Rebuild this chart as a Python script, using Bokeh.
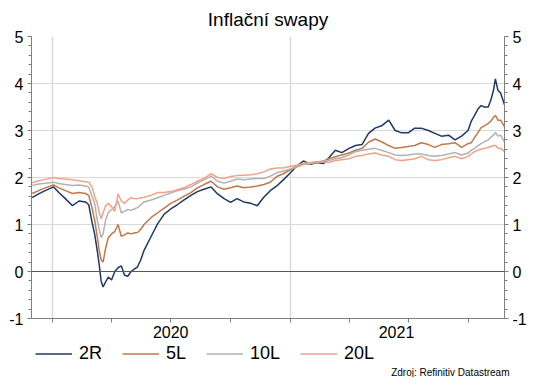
import pandas as pd
from bokeh.plotting import figure
from bokeh.layouts import column
from bokeh.models import (Range1d, FixedTicker, LinearAxis, Span, Legend, LegendItem,
                          Title, DatetimeTickFormatter)
from bokeh.embed import file_html
from bokeh.resources import INLINE

# ---------------- data ----------------
dates = [
    "2019-12-01", "2019-12-11", "2019-12-21", "2020-01-03", "2020-01-11", "2020-01-21",
    "2020-02-01", "2020-02-11", "2020-02-21", "2020-02-26", "2020-03-02", "2020-03-06",
    "2020-03-10", "2020-03-13", "2020-03-16", "2020-03-19", "2020-03-23", "2020-03-27",
    "2020-04-01", "2020-04-06", "2020-04-11", "2020-04-16", "2020-04-21", "2020-04-26",
    "2020-05-01", "2020-05-06", "2020-05-11", "2020-05-16", "2020-05-21", "2020-06-01",
    "2020-06-11", "2020-06-21", "2020-07-01", "2020-07-11", "2020-07-21", "2020-08-01",
    "2020-08-11", "2020-08-21", "2020-09-01", "2020-09-11", "2020-09-21", "2020-10-01",
    "2020-10-11", "2020-10-21", "2020-11-01", "2020-11-11", "2020-11-21", "2020-12-01",
    "2020-12-11", "2020-12-21", "2021-01-01", "2021-01-11", "2021-01-21", "2021-02-01",
    "2021-02-11", "2021-02-21", "2021-03-01", "2021-03-11", "2021-03-21", "2021-04-01",
    "2021-04-11", "2021-04-21", "2021-05-01", "2021-05-11", "2021-05-21", "2021-06-01",
    "2021-06-11", "2021-06-21", "2021-07-01", "2021-07-11", "2021-07-21", "2021-08-01",
    "2021-08-11", "2021-08-21", "2021-09-01", "2021-09-11", "2021-09-21", "2021-10-01",
    "2021-10-06", "2021-10-11", "2021-10-16", "2021-10-21", "2021-10-26", "2021-11-01",
    "2021-11-05", "2021-11-09", "2021-11-12", "2021-11-16", "2021-11-20", "2021-11-26",
]

swap_2r = [
    1.57, 1.65, 1.72, 1.80, 1.68, 1.55, 1.40, 1.50, 1.48, 1.42, 1.05, 0.80,
    0.45, 0.15, -0.20, -0.33, -0.22, -0.12, -0.18, 0.00, 0.08, 0.12, -0.08, -0.10,
    0.00, 0.05, 0.10, 0.25, 0.45, 0.75, 1.02, 1.22, 1.33, 1.42, 1.52, 1.62,
    1.70, 1.75, 1.80, 1.65, 1.55, 1.47, 1.55, 1.48, 1.45, 1.40, 1.58, 1.72,
    1.82, 1.95, 2.10, 2.25, 2.35, 2.28, 2.32, 2.30, 2.42, 2.58, 2.53, 2.62,
    2.68, 2.70, 2.94, 3.05, 3.10, 3.22, 3.00, 2.95, 2.95, 3.05, 3.05, 3.00,
    2.94, 2.88, 2.90, 2.80, 2.88, 3.00, 3.20, 3.32, 3.45, 3.53, 3.50, 3.50,
    3.65, 3.85, 4.10, 3.85, 3.80, 3.55,
]

swap_5l = [
    1.66, 1.72, 1.78, 1.84, 1.78, 1.72, 1.66, 1.68, 1.66, 1.62, 1.35, 1.10,
    0.75, 0.45, 0.25, 0.20, 0.50, 0.72, 0.80, 0.85, 1.00, 0.75, 0.78, 0.82,
    0.80, 0.82, 0.83, 0.90, 1.00, 1.15, 1.25, 1.35, 1.45, 1.52, 1.60, 1.68,
    1.78, 1.85, 1.92, 1.80, 1.75, 1.78, 1.82, 1.78, 1.80, 1.82, 1.85, 1.90,
    2.02, 2.08, 2.17, 2.24, 2.28, 2.30, 2.32, 2.35, 2.40, 2.44, 2.48, 2.52,
    2.58, 2.62, 2.75, 2.82, 2.76, 2.68, 2.62, 2.64, 2.66, 2.68, 2.74, 2.70,
    2.64, 2.70, 2.72, 2.74, 2.64, 2.72, 2.74, 2.85, 2.95, 3.06, 3.10, 3.15,
    3.20, 3.28, 3.32, 3.22, 3.22, 3.08,
]

swap_10l = [
    1.83, 1.86, 1.88, 1.90, 1.87, 1.85, 1.83, 1.84, 1.82, 1.80, 1.60, 1.45,
    1.10, 0.90, 0.72, 0.80, 1.10, 1.25, 1.32, 1.38, 1.50, 1.25, 1.28, 1.32,
    1.30, 1.33, 1.36, 1.42, 1.48, 1.52, 1.57, 1.62, 1.67, 1.72, 1.75, 1.80,
    1.88, 1.95, 2.03, 1.92, 1.88, 1.92, 1.97, 1.95, 1.97, 1.98, 1.98, 2.03,
    2.10, 2.14, 2.18, 2.22, 2.28, 2.30, 2.33, 2.35, 2.36, 2.40, 2.42, 2.48,
    2.55, 2.58, 2.60, 2.62, 2.58, 2.53, 2.48, 2.47, 2.48, 2.50, 2.50, 2.47,
    2.45, 2.47, 2.50, 2.53, 2.48, 2.52, 2.58, 2.62, 2.68, 2.72, 2.76, 2.80,
    2.86, 2.90, 2.96, 2.88, 2.90, 2.75,
]

swap_20l = [
    1.89, 1.93, 1.96, 2.00, 1.98, 1.97, 1.95, 1.93, 1.91, 1.90, 1.80, 1.60,
    1.45, 1.25, 1.12, 1.25, 1.40, 1.45, 1.38, 1.28, 1.65, 1.50, 1.45, 1.52,
    1.57, 1.55, 1.55, 1.57, 1.58, 1.62, 1.68, 1.68, 1.70, 1.74, 1.78, 1.85,
    1.92, 1.98, 2.08, 2.00, 1.98, 2.02, 2.04, 2.05, 2.06, 2.08, 2.12, 2.18,
    2.20, 2.20, 2.24, 2.26, 2.30, 2.32, 2.34, 2.33, 2.32, 2.36, 2.38, 2.40,
    2.45, 2.47, 2.50, 2.52, 2.48, 2.45, 2.38, 2.36, 2.38, 2.40, 2.45, 2.38,
    2.36, 2.38, 2.42, 2.45, 2.40, 2.45, 2.50, 2.55, 2.58, 2.60, 2.62, 2.64,
    2.66, 2.68, 2.68, 2.62, 2.62, 2.55,
]

series_names = ["2R", "5L", "10L", "20L"]
series_colors = ["#1F3864", "#C0784A", "#B2B2B2", "#F4A287"]
series_values = [swap_2r, swap_5l, swap_10l, swap_20l]

x_start, x_end = "2019-11-30", "2021-11-26"
year_label_dates = ["2020-07-01", "2021-06-13"]
quarter_dates = ["2020-01-01", "2020-04-01", "2020-07-01", "2020-10-01",
                 "2021-01-01", "2021-04-01", "2021-07-01", "2021-10-01"]
year_grid_dates = ["2020-01-01", "2021-01-01"]
y_ticks = [-1, 0, 1, 2, 3, 4, 5]
y_minor_ticks = [-1 + 0.2 * i for i in range(31)]
source_text = "Zdroj: Refinitiv Datastream"

FONT = "Liberation Sans"


def ms(d):
    return pd.Timestamp(d).value / 1e6


x_dt = pd.to_datetime(dates)

# ---------------- main chart ----------------
p = figure(width=529, height=344, x_axis_type="datetime", output_backend="svg",
           toolbar_location=None,
           x_range=Range1d(ms(x_start), ms(x_end)), y_range=Range1d(-1, 5),
           min_border_left=31, min_border_right=22, min_border_top=36, min_border_bottom=26,
           title="Inflační swapy")
p.outline_line_color = None
p.background_fill_color = "white"
p.border_fill_color = "white"

p.title.align = "center"
p.title.text_font = FONT
p.title.text_font_size = "19px"
p.title.text_font_style = "normal"
p.title.text_color = "#000000"
p.title.standoff = 13

xa = p.xaxis[0]
xa.ticker = FixedTicker(ticks=[ms(d) for d in year_label_dates],
                        minor_ticks=[ms(d) for d in quarter_dates])
xa.formatter = DatetimeTickFormatter(years="%Y", months="%Y", days="%Y", hours="%Y",
                                     minutes="%Y", seconds="%Y", milliseconds="%Y")
xa.major_tick_out = 0
xa.major_tick_in = 0
xa.minor_tick_out = 4
xa.minor_tick_in = 0
xa.axis_line_color = "#7F7F7F"
xa.minor_tick_line_color = "#7F7F7F"
xa.major_label_standoff = 3
xa.major_label_text_font = FONT
xa.major_label_text_font_size = "16px"
xa.major_label_text_color = "#000000"


def style_y(ax):
    ax.ticker = FixedTicker(ticks=y_ticks, minor_ticks=y_minor_ticks)
    ax.major_label_overrides = {t: str(t) for t in y_ticks}
    ax.major_tick_out = 4
    ax.major_tick_in = 0
    ax.minor_tick_out = 3
    ax.minor_tick_in = 0
    ax.axis_line_color = "#7F7F7F"
    ax.major_tick_line_color = "#7F7F7F"
    ax.minor_tick_line_color = "#7F7F7F"
    ax.major_label_standoff = 4
    ax.major_label_text_font = FONT
    ax.major_label_text_font_size = "16px"
    ax.major_label_text_color = "#000000"


style_y(p.yaxis[0])
ry = LinearAxis()
style_y(ry)
p.add_layout(ry, "right")

p.xgrid.ticker = FixedTicker(ticks=[ms(d) for d in year_grid_dates])
p.xgrid.grid_line_color = "#D9D9D9"
p.xgrid.grid_line_width = 1.5
p.ygrid.ticker = FixedTicker(ticks=y_ticks)
p.ygrid.grid_line_color = "#D9D9D9"
p.ygrid.grid_line_width = 1

p.add_layout(Span(location=0, dimension="width", line_color="#595959", line_width=1))

for vals, col in zip(series_values, series_colors):
    p.line(x=x_dt, y=vals, line_color=col, line_width=1.5)

# ---------------- legend + source strip ----------------
q = figure(width=529, height=33, output_backend="svg", toolbar_location=None,
           x_axis_location=None, y_axis_location=None,
           x_range=Range1d(0, 1), y_range=Range1d(0, 1), min_border=0)
q.outline_line_color = None
q.grid.visible = False
q.background_fill_color = "white"
q.border_fill_color = "white"

leg_renderers = []
for vals, col in zip(series_values, series_colors):
    # same series, kept outside this strip's view; used only for the legend swatches
    leg_renderers.append(q.line(x=[ms(d) for d in dates], y=vals, line_color=col, line_width=1.5))

legend = Legend(items=[LegendItem(label=n, renderers=[r]) for n, r in zip(series_names, leg_renderers)],
                orientation="horizontal", location=(4, 0), padding=0, margin=0,
                spacing=20, glyph_width=37, glyph_height=19, label_standoff=7,
                label_height=19,
                label_text_font=FONT, label_text_font_size="18px",
                label_text_color="#000000",
                border_line_color=None, background_fill_alpha=0)
q.add_layout(legend)

src = Title(text=source_text, align="right", text_font=FONT, text_font_size="10px",
            text_font_style="normal", text_color="#000000", standoff=0, offset=-5)
q.add_layout(src, "below")

layout = column(p, q, spacing=0)
open("out.html", "w").write(file_html(layout, INLINE))
